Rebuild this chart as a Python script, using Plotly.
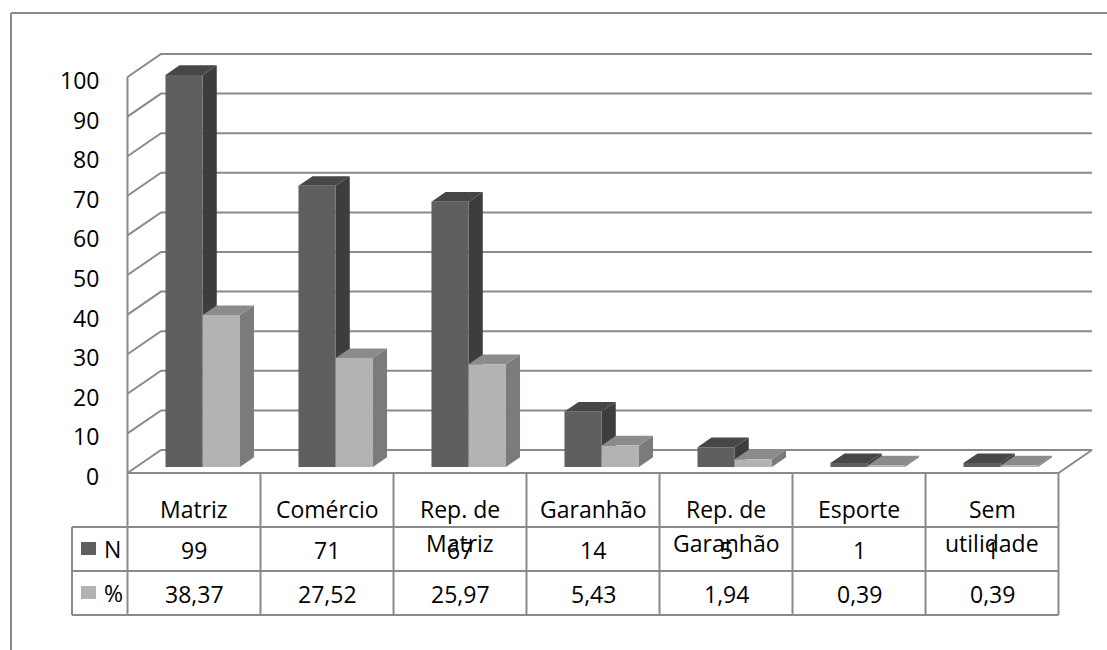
import plotly.graph_objects as go

# ---------------- data ----------------
categories = ["Matriz", "Comércio", "Rep. de Matriz", "Garanhão",
              "Rep. de Garanhão", "Esporte", "Sem utilidade"]
n_values = [99, 71, 67, 14, 5, 1, 1]
pct_values = [38.37, 27.52, 25.97, 5.43, 1.94, 0.39, 0.39]
series_names = ["N", "%"]
y_ticks = [0, 10, 20, 30, 40, 50, 60, 70, 80, 90, 100]

# ---------------- layout geometry (pixels) ----------------
W, H = 1107, 650
X_LEFT = 127.5          # left edge of the front floor / table
SLOT = 133.0            # width of one category slot
Y0 = 473.0              # pixel row of value 0 on the front plane
PXU = 3.96              # pixels per value unit
X0 = X_LEFT + SLOT / 2  # center of first category


def xd(px):
    return (px - X0) / SLOT


def yd(py):
    return (Y0 - py) / PXU


DX = 33.5 / SLOT        # wall depth, x data units
DY = 23.0 / PXU         # wall depth, y data units
F0, F1 = 0.26, 0.68     # bar depth fractions (front, back)
BW = 0.28               # bar width in category units

GRID = "#8a8a8a"
FONT = "Open Sans"
FSIZE = 23
styles = [
    dict(front="#5f5f5f", side="#3d3d3d", top="#474747"),
    dict(front="#b3b3b3", side="#7b7b7b", top="#8b8b8b"),
]

fig = go.Figure()

# ---------- walls / gridlines ----------
gx, gy = [], []
for t in y_ticks:
    gx += [-0.5, -0.5 + DX, len(categories) - 0.5 + DX, None]
    gy += [t, t + DY, t + DY, None]
# front vertical axis line
gx += [-0.5, -0.5, None]
gy += [0, max(y_ticks), None]
# floor front & right edges
gx += [-0.5, len(categories) - 0.5, len(categories) - 0.5 + DX, None]
gy += [0, 0, DY, None]
fig.add_trace(go.Scatter(x=gx, y=gy, mode="lines", line=dict(color=GRID, width=2),
                         hoverinfo="skip", showlegend=False))

# ---------- 3D bars ----------
def add_poly(xs, ys, color):
    fig.add_trace(go.Scatter(x=xs, y=ys, mode="lines", fill="toself",
                             fillcolor=color, line=dict(width=0, color=color),
                             hoverinfo="skip", showlegend=False))


for i in range(len(categories)):
    for s, vals in enumerate([n_values, pct_values]):
        v = vals[i]
        a = i - BW + s * BW
        b = a + BW
        st = styles[s]
        fx0, fy0 = F0 * DX, F0 * DY
        bx1, by1 = F1 * DX, F1 * DY
        # side face
        add_poly([b + fx0, b + bx1, b + bx1, b + fx0, b + fx0],
                 [fy0, by1, v + by1, v + fy0, fy0], st["side"])
        # top face
        add_poly([a + fx0, b + fx0, b + bx1, a + bx1, a + fx0],
                 [v + fy0, v + fy0, v + by1, v + by1, v + fy0], st["top"])
        # front face
        add_poly([a + fx0, b + fx0, b + fx0, a + fx0, a + fx0],
                 [fy0, fy0, v + fy0, v + fy0, fy0], st["front"])

# ---------- shapes: frame and data table ----------
shapes = []


def line_px(x1, y1, x2, y2, color=GRID, width=2):
    shapes.append(dict(type="line", xref="x", yref="y",
                       x0=xd(x1), y0=yd(y1), x1=xd(x2), y1=yd(y2),
                       line=dict(color=color, width=width)))


# outer chart frame
line_px(11, 13, 11, 660)
line_px(11, 13, 1110, 13)

rows = [473, 527, 571, 615]
x_right = X_LEFT + SLOT * len(categories)
LEG_L = 72
for r in rows[1:]:
    line_px(LEG_L, r, x_right, r)
for k in range(len(categories) + 1):
    line_px(X_LEFT + SLOT * k, rows[0], X_LEFT + SLOT * k, rows[-1])
line_px(LEG_L, rows[1], LEG_L, rows[-1])

# legend squares
for s in range(2):
    cy = (rows[1 + s] + rows[2 + s]) / 2
    shapes.append(dict(type="rect", xref="x", yref="y",
                       x0=xd(81), x1=xd(96), y0=yd(cy - 7), y1=yd(cy + 6),
                       fillcolor=styles[s]["front"], line=dict(width=0)))

annotations = []


def text(px, py, s, anchor="center"):
    annotations.append(dict(x=xd(px), y=yd(py), xref="x", yref="y", text=s,
                            showarrow=False, xanchor=anchor, yanchor="middle",
                            font=dict(family=FONT, size=FSIZE, color="#000000")))


# y tick labels
for t in y_ticks:
    text(101, Y0 - PXU * t + 3, str(t), anchor="right")

# category labels (wrapped like Excel)
for i, c in enumerate(categories):
    cx = X0 + SLOT * i
    if len(c) > 9 and " " in c:
        k = c.rfind(" ")
        parts = [c[:k], c[k + 1:]]
    else:
        parts = [c]
    for j, p in enumerate(parts):
        text(cx, 509 + 34 * j, p)

# table values
for i in range(len(categories)):
    cx = X0 + SLOT * i
    text(cx, 550, str(n_values[i]))
    text(cx, 594, f"{pct_values[i]:.2f}".replace(".", ","))

# legend names
for s, name in enumerate(series_names):
    cy = (rows[1 + s] + rows[2 + s]) / 2
    text(102, cy, name, anchor="left")

fig.update_layout(
    width=W, height=H, margin=dict(l=0, r=0, t=0, b=0),
    paper_bgcolor="white", plot_bgcolor="white",
    xaxis=dict(range=[xd(0), xd(W)], visible=False, fixedrange=True),
    yaxis=dict(range=[yd(H), yd(0)], visible=False, fixedrange=True),
    shapes=shapes, annotations=annotations, showlegend=False,
)

fig.write_html("out.html", config={"displayModeBar": False},
               post_script="document.body.style.margin='0';"
                           "document.body.style.overflow='hidden';")
